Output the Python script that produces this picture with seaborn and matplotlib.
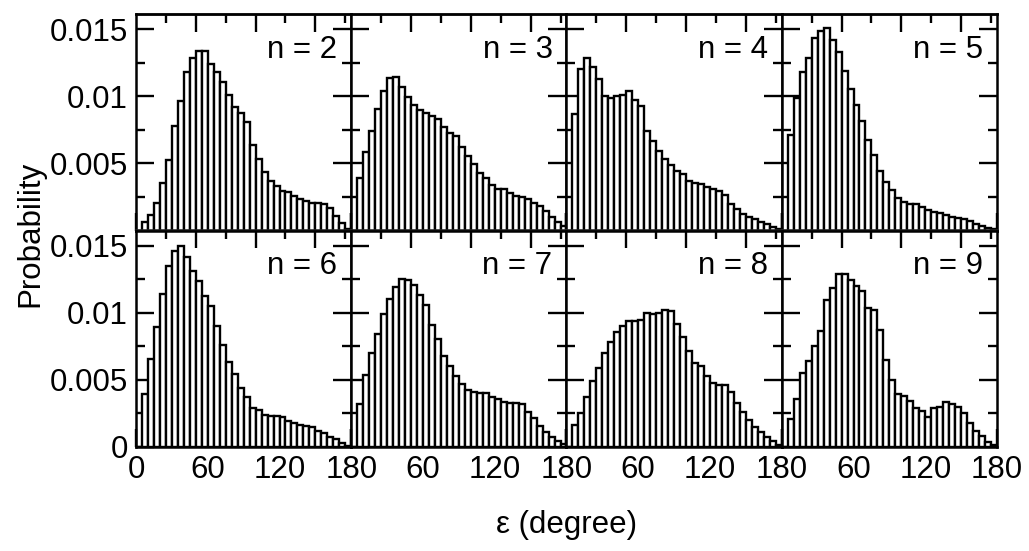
import numpy as np
import pandas as pd
import matplotlib
matplotlib.use("Agg")
import matplotlib.pyplot as plt
import seaborn as sns
from matplotlib.ticker import MultipleLocator, FixedLocator

sns.set_theme(style="white")
plt.rcParams['font.family'] = ['Liberation Sans', 'DejaVu Sans']

# 5-degree bins from 0 to 180
n_bins = 36
bin_width = 5
bin_centers = np.arange(n_bins) * bin_width + bin_width / 2

panel_labels = ["n = 2", "n = 3", "n = 4", "n = 5", "n = 6", "n = 7", "n = 8", "n = 9"]

p_n2 = [0.0, 0.00062, 0.00119, 0.00206, 0.00353, 0.00527, 0.00776, 0.00963, 0.01182, 0.01281,
        0.01336, 0.01336, 0.01236, 0.01177, 0.01102, 0.01012, 0.0092, 0.00878, 0.00808, 0.00634,
        0.0053, 0.00438, 0.00368, 0.00331, 0.00294, 0.00286, 0.00254, 0.00236, 0.00219, 0.00206,
        0.00206, 0.00194, 0.00169, 0.00107, 0.00057, 0.00012]
p_n3 = [0.0, 0.0039, 0.00585, 0.00741, 0.00903, 0.01037, 0.01132, 0.01144, 0.0107, 0.00995,
        0.00933, 0.009, 0.00878, 0.00851, 0.00833, 0.00771, 0.00726, 0.00702, 0.00622, 0.00555,
        0.00493, 0.00428, 0.00393, 0.00341, 0.00311, 0.00311, 0.00279, 0.00256, 0.00249, 0.00231,
        0.00206, 0.00182, 0.00142, 0.00104, 0.00067, 0.0003]
p_n4 = [0.0, 0.00866, 0.01202, 0.01281, 0.01219, 0.01127, 0.01003, 0.0099, 0.01003, 0.01012,
        0.01037, 0.0097, 0.00928, 0.00741, 0.00667, 0.0059, 0.00535, 0.0049, 0.00443, 0.00418,
        0.00368, 0.00356, 0.00343, 0.00323, 0.00306, 0.00294, 0.00266, 0.00199, 0.00162, 0.00124,
        0.001, 0.00082, 0.00062, 0.00045, 0.00025, 0.00012]
p_n5 = [0.0, 0.00709, 0.0099, 0.01177, 0.01286, 0.0143, 0.01488, 0.01505, 0.01418, 0.01331,
        0.01187, 0.01052, 0.00938, 0.00813, 0.00672, 0.0056, 0.00443, 0.00361, 0.00299, 0.00244,
        0.00211, 0.00194, 0.00194, 0.00174, 0.00149, 0.00137, 0.00129, 0.00117, 0.001, 0.00095,
        0.00087, 0.0007, 0.0005, 0.00037, 0.0002, 0.0001]
p_n6 = [0.0, 0.00393, 0.00654, 0.00891, 0.01139, 0.01346, 0.01458, 0.015, 0.01413, 0.01313,
        0.01239, 0.01127, 0.01052, 0.00903, 0.00756, 0.00632, 0.00542, 0.00443, 0.00371, 0.00294,
        0.00276, 0.00239, 0.00231, 0.00231, 0.00221, 0.00197, 0.00177, 0.00164, 0.00159, 0.00152,
        0.00119, 0.00102, 0.00077, 0.0006, 0.00032, 0.0001]
p_n7 = [0.0, 0.00321, 0.00537, 0.00699, 0.00841, 0.0099, 0.01104, 0.01192, 0.01251, 0.01241,
        0.01209, 0.01129, 0.01055, 0.00905, 0.00806, 0.00679, 0.006, 0.00525, 0.00468, 0.00425,
        0.00408, 0.004, 0.00405, 0.00376, 0.00358, 0.00338, 0.00331, 0.00326, 0.00318, 0.00264,
        0.00214, 0.00159, 0.00114, 0.00072, 0.00045, 0.0002]
p_n8 = [0.0, 0.00164, 0.00256, 0.00376, 0.00493, 0.00587, 0.00699, 0.00779, 0.00853, 0.00903,
        0.0094, 0.00935, 0.00948, 0.00998, 0.0099, 0.00998, 0.01017, 0.0101, 0.00915, 0.00816,
        0.00716, 0.00629, 0.006, 0.00525, 0.0048, 0.00458, 0.00458, 0.00408, 0.00326, 0.00264,
        0.00201, 0.00152, 0.00109, 0.00077, 0.00047, 0.00015]
p_n9 = [0.0, 0.00206, 0.00356, 0.0055, 0.00637, 0.00749, 0.00861, 0.01097, 0.01184, 0.01289,
        0.01289, 0.01246, 0.01202, 0.01159, 0.01035, 0.01022, 0.00868, 0.00649, 0.005, 0.00393,
        0.00383, 0.00346, 0.00289, 0.00269, 0.00226, 0.00289, 0.00301, 0.00333, 0.00321, 0.00301,
        0.00251, 0.00177, 0.00119, 0.00082, 0.0004, 0.00015]

series = [p_n2, p_n3, p_n4, p_n5, p_n6, p_n7, p_n8, p_n9]

y_ticks = [0, 0.005, 0.01, 0.015]
y_ticklabels = ["0", "0.005", "0.01", "0.015"]
x_ticks = [0, 60, 120, 180]
x_ticklabels = ["0", "60", "120", "180"]

fig = plt.figure(figsize=(10.29, 5.51), dpi=100)
fig.patch.set_facecolor("white")
gs = fig.add_gridspec(2, 4, left=136/1029, right=997/1029, top=1-14/551, bottom=1-447/551,
                      wspace=0, hspace=0)

FS = 22.5
for i, (vals, lab) in enumerate(zip(series, panel_labels)):
    r, c = divmod(i, 4)
    ax = fig.add_subplot(gs[r, c])
    ax.set_facecolor("white")
    df = pd.DataFrame({"angle": bin_centers, "prob": np.asarray(vals, dtype=float)})
    sns.histplot(data=df, x="angle", weights="prob", bins=n_bins, binrange=(0, 180), ax=ax,
                 stat="count", color="white", edgecolor="black", linewidth=1.7, alpha=1.0)
    ax.set_xlim(0, 180)
    ax.set_ylim(0, 0.01612)
    ax.set_xlabel("")
    ax.set_ylabel("")
    for sp in ax.spines.values():
        sp.set_visible(True)
        sp.set_color("black")
        sp.set_linewidth(1.8)
    ax.set_xticks(x_ticks)
    ax.xaxis.set_minor_locator(MultipleLocator(30))
    ax.set_yticks(y_ticks)
    ax.yaxis.set_minor_locator(MultipleLocator(0.0025))
    ax.tick_params(axis="both", which="major", direction="in", length=13, width=1.7,
                   labelsize=FS, pad=6, color="black", labelcolor="black")
    ax.tick_params(axis="both", which="minor", direction="in", length=6.5, width=1.7, color="black")
    ax.tick_params(axis="y", which="both", left=True, right=True)
    ax.tick_params(axis="x", which="both", bottom=True, top=False)
    # top axis ticks
    sec = ax.secondary_xaxis("top")
    sec.xaxis.set_major_locator(FixedLocator([50, 100, 150]))
    sec.xaxis.set_minor_locator(FixedLocator([25, 75, 125, 175]))
    sec.tick_params(axis="x", which="major", direction="in", length=13, width=1.7, labeltop=False, color="black")
    sec.tick_params(axis="x", which="minor", direction="in", length=6.5, width=1.7, color="black")
    sec.spines["top"].set_linewidth(1.8)

    if c == 0:
        if r == 0:
            ax.set_yticklabels(["", "0.005", "0.01", "0.015"])
        else:
            ax.set_yticklabels(y_ticklabels)
    else:
        ax.set_yticklabels([])
    if r == 1:
        if c == 0:
            ax.set_xticklabels(x_ticklabels)
        else:
            ax.set_xticklabels([""] + x_ticklabels[1:])
    else:
        ax.set_xticklabels([])
    ax.text(0.935, 0.835, lab, transform=ax.transAxes, ha="right", va="center", fontsize=FS, color="black")

fig.text(0.551, 0.047, "ε (degree)", ha="center", va="center", fontsize=FS, color="black")
fig.text(0.03, 0.575, "Probability", ha="center", va="center", rotation=90, fontsize=FS, color="black")

fig.savefig("out.png", dpi=100, facecolor="white")
